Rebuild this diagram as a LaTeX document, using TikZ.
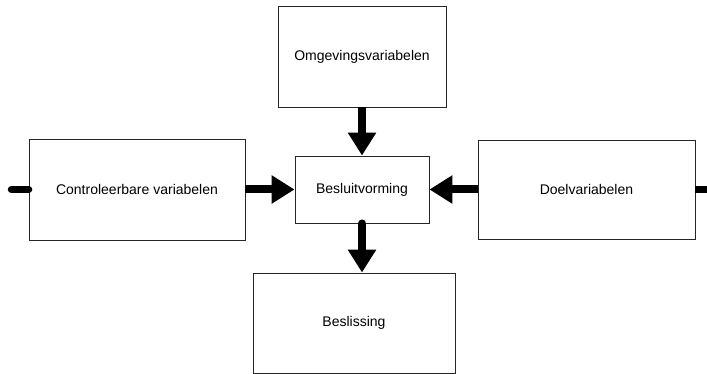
\documentclass[tikz,border=0pt]{standalone}
\usepackage{fontspec}
\setmainfont{Liberation Sans}
\usetikzlibrary{arrows.meta}
\begin{document}
\begin{tikzpicture}[x=1pt,y=-1pt,
  box/.style={draw=black!85,line width=0.9pt,fill=white,inner sep=0pt,
    font=\fontsize{14}{16}\selectfont},
  flow/.style={line width=8pt,-{Triangle[width=27pt,length=23pt]}},
  stub/.style={line width=7.5pt}]
\useasboundingbox (0,0) rectangle (707,374);
% boxes, positioned by their corners
\node[box,minimum width=168pt,minimum height=101pt] (env) at (362,56.5) {Omgevingsvariabelen};
\node[box,minimum width=216pt,minimum height=101pt] (ctrl) at (137,189.5) {Controleerbare variabelen};
\node[box,minimum width=134pt,minimum height=67pt] (dec) at (362,189.5) {Besluitvorming};
\node[box,minimum width=217pt,minimum height=99pt] (goal) at (586.5,189.5) {Doelvariabelen};
\node[box,minimum width=202pt,minimum height=100pt] (out) at (354,323) {Beslissing};
% free ends of the side stubs
\coordinate (lin) at (11.5,189.5);
\coordinate (rout) at (712,189.5);
% connectors
\draw[stub,line cap=round] (lin) -- (ctrl.west);
\draw[stub] (goal.east) -- (rout);
\draw[flow] (env.south -| dec.north) -- (dec.north);
\draw[flow] (ctrl.east) -- (dec.west);
\draw[flow] (goal.west) -- (dec.east);
\draw[flow,line cap=round] (dec.south) -- (dec.south |- out.north);
\end{tikzpicture}
\end{document}
